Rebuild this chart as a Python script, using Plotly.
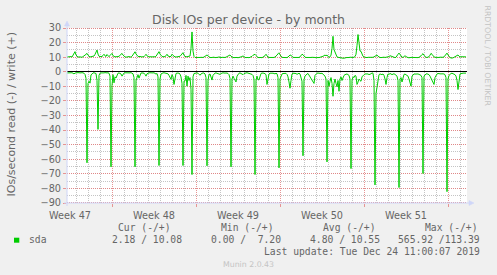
import pandas as pd
import plotly.graph_objects as go

# ---------------- data (2-hour samples) ----------------
start_time = "2019-11-21 06:00"
end_time = "2019-12-24 14:00"
n_samples = 400

write_iops = [
    10.1,10.3,10.0,10.2,10.4,10.1,11.2,12.6,13.8,11.5,10.3,10.0,10.2,10.4,10.1,9.9,10.3,10.6,11.4,12.0,
    12.6,11.3,10.4,10.1,10.3,10.5,10.2,10.8,11.9,13.2,14.9,12.1,10.6,10.4,10.2,10.5,11.1,12.0,10.9,10.5,
    11.8,10.6,10.3,11.2,12.3,12.6,11.0,10.4,10.2,10.3,10.1,10.4,10.6,11.2,11.9,12.6,11.4,10.5,10.2,10.0,
    10.3,10.1,10.4,10.2,10.0,10.6,11.5,12.8,13.7,12.2,11.0,10.5,10.3,10.6,10.2,10.4,10.1,10.3,11.1,12.0,
    10.9,10.4,10.2,10.3,10.1,10.0,10.2,10.4,10.1,10.6,11.8,12.9,13.8,12.1,10.8,10.5,10.3,10.2,10.4,11.0,
    12.0,10.8,10.5,10.3,10.6,12.0,11.2,10.4,10.2,10.1,10.3,10.5,10.2,10.6,11.4,12.8,13.1,11.2,10.4,10.2,
    10.3,10.5,10.2,10.8,16.0,27.3,14.2,10.5,9.8,9.7,9.9,9.8,9.6,9.8,9.9,9.7,9.8,10.1,10.4,10.7,
    11.5,10.9,10.0,9.8,9.7,9.9,9.8,10.0,9.7,9.6,9.8,9.9,10.2,9.8,9.7,9.9,9.8,9.6,9.8,10.0,
    10.3,10.8,11.2,11.5,10.6,9.9,9.8,9.7,9.9,10.1,9.8,9.6,9.8,9.9,9.7,10.4,10.9,10.1,9.8,9.7,
    9.9,9.8,9.6,9.8,10.0,10.6,11.3,12.0,12.0,11.1,10.2,9.8,9.7,9.9,9.8,9.6,9.9,10.3,11.0,12.0,
    10.8,10.0,9.8,9.7,9.9,9.8,9.6,9.8,10.1,10.6,11.4,12.3,13.0,11.6,10.4,9.9,9.8,9.7,9.9,9.8,
    9.7,10.1,10.8,11.5,11.2,10.3,9.9,9.8,9.7,9.9,9.8,9.6,9.8,10.2,11.0,12.0,11.7,10.6,10.0,9.8,
    9.7,9.9,9.8,9.6,9.8,9.9,10.0,9.7,9.8,9.6,9.9,9.8,9.7,9.9,9.8,10.1,10.6,11.0,11.5,10.9,
    11.5,10.4,9.9,10.2,11.4,16.0,24.3,15.2,13.0,11.0,10.2,9.9,9.7,9.8,9.6,9.4,9.3,9.3,9.6,9.9,
    9.8,9.7,9.9,9.8,10.0,9.8,9.7,9.9,10.4,12.0,18.0,25.5,20.0,14.2,14.0,11.8,10.6,10.1,9.9,9.8,
    9.7,9.9,9.8,10.0,9.8,9.7,9.9,10.2,10.8,11.2,11.5,10.6,10.0,9.8,9.7,9.9,9.8,10.0,9.8,9.9,
    9.8,10.0,10.4,11.0,10.8,10.2,9.9,9.8,9.7,9.9,10.6,12.0,12.8,11.6,10.5,10.0,9.8,10.3,11.0,10.4,
    9.9,9.7,9.6,9.8,9.7,9.9,9.8,9.7,9.8,9.9,9.8,9.7,9.9,10.2,10.9,11.8,12.4,11.2,10.3,9.9,
    9.8,9.9,10.3,11.4,12.6,12.0,10.9,10.2,9.9,9.8,9.7,9.9,9.8,10.0,9.8,9.7,9.9,10.2,11.0,12.0,
    12.8,11.5,10.4,9.8,9.4,9.3,9.5,9.9,10.2,10.6,11.2,11.5,10.6,10.1,10.3,10.2,10.3,10.2,10.3,10.2,
]

read_iops = [
    0.8,0.7,0.9,0.6,0.8,0.7,1.0,1.5,0.9,0.7,0.8,0.6,0.7,0.9,0.8,0.6,0.7,1.0,1.8,4.5,
    62.4,8.0,6.5,7.8,2.2,1.0,0.8,0.7,0.9,1.2,6.0,39.5,2.5,1.0,0.8,0.9,0.7,0.8,0.6,0.9,
    0.8,0.7,1.0,3.0,65.2,9.5,2.0,7.6,3.5,4.3,1.8,1.0,0.8,0.9,1.5,3.0,1.6,0.9,0.7,0.8,
    0.6,0.9,0.7,0.8,0.6,1.0,1.4,4.0,65.2,6.0,4.4,2.0,4.4,1.6,0.9,0.8,0.7,1.0,1.8,3.0,
    1.4,0.9,0.8,0.7,0.9,0.6,0.8,0.7,1.0,1.6,1.2,3.5,64.3,5.0,1.5,0.9,0.8,0.7,0.9,0.8,
    1.0,1.4,2.5,4.4,5.2,2.0,3.5,8.7,3.0,1.2,0.9,0.8,1.0,1.6,3.5,8.0,64.3,6.4,6.4,2.5,
    9.9,3.0,6.0,4.0,12.0,70.5,3.5,1.2,0.9,0.7,0.8,1.0,1.8,2.4,1.5,1.0,0.8,0.9,1.5,4.0,
    64.5,6.0,2.0,1.5,3.0,5.7,2.5,1.2,0.9,0.8,1.0,0.9,1.4,1.8,1.2,0.8,0.7,0.9,0.8,1.0,
    0.9,1.2,2.0,4.5,65.2,5.0,3.0,4.5,6.0,7.0,3.0,1.5,1.0,0.8,1.2,1.6,2.0,1.3,0.9,0.8,
    0.7,0.9,0.8,1.0,1.2,1.8,2.5,5.0,70.5,6.0,3.0,5.5,5.5,2.2,1.2,0.9,0.8,1.0,1.4,2.0,
    8.7,3.0,1.5,1.0,0.9,0.8,1.0,1.2,1.5,1.0,1.4,4.0,65.9,5.0,3.0,1.5,1.2,1.0,0.9,1.1,
    1.8,3.5,7.0,11.3,6.0,1.5,1.0,0.9,1.0,1.2,1.8,1.4,1.0,1.5,4.0,6.5,57.6,5.5,3.0,2.0,
    1.5,1.2,2.5,3.0,4.5,6.0,7.0,8.0,2.5,1.2,1.0,0.9,1.1,1.4,1.2,1.0,1.5,2.2,3.0,5.0,
    61.8,6.0,9.9,6.7,4.0,8.0,16.8,8.0,5.0,8.0,10.3,6.0,13.4,5.0,3.5,6.0,4.0,2.5,2.0,1.8,
    1.5,2.0,2.5,5.0,66.4,6.0,3.5,4.0,2.5,3.0,8.7,7.1,5.0,6.0,6.5,3.5,2.5,2.0,1.5,1.4,
    1.2,1.5,2.0,1.8,1.4,0.8,1.0,6.0,77.6,15.0,9.9,4.0,2.0,1.5,1.8,2.0,1.5,2.5,5.0,8.7,
    4.0,1.5,1.8,1.2,1.5,2.0,1.6,1.4,1.8,2.5,3.0,6.0,79.4,5.0,4.0,7.0,3.0,1.8,1.6,2.0,
    2.2,3.0,5.0,7.0,9.9,3.0,1.8,1.5,1.6,1.4,1.2,1.5,1.8,2.0,2.5,4.0,69.8,3.0,1.8,1.5,
    1.4,1.6,2.0,3.0,4.3,5.5,6.5,8.7,4.0,2.0,1.5,1.2,1.4,1.6,1.5,1.4,1.2,1.5,2.0,4.0,
    82.2,5.0,2.5,1.5,1.2,1.0,1.2,1.5,2.0,3.0,6.0,12.2,4.0,1.5,1.2,1.0,0.8,0.9,1.0,0.9,
]

legend_headers = ["Cur (-/+)", "Min (-/+)", "Avg (-/+)", "Max (-/+)"]
stat_read = [2.18, 0.00, 4.80, 565.92]
stat_write = [10.08, 7.20, 10.55, 113.39]
series_name = "sda"
title_text = "Disk IOs per device - by month"
ylabel_text = "IOs/second read (-) / write (+)"
last_update = "Last update: Tue Dec 24 11:00:07 2019"
watermark = "Munin 2.0.43"
side_text = "RRDTOOL / TOBI OETIKER"
y_range = [-90, 30]
y_major_step = 10
y_minor_step = 5

# ---------------- figure ----------------
W, H = 497, 275
L, R, T, B = 67, 30, 28, 72
PW, PH = W - L - R, H - T - B

def px(x):
    return (x - L) / PW

def py(y):
    return (H - B - y) / PH

def crisp_y(v):
    """paper y of a 1-px line snapped to the pixel row that value v falls on"""
    pix = T + (y_range[1] - v) * PH / (y_range[1] - y_range[0])
    row = min(int(pix), H - B - 1)
    return py(row + 0.5)

times = pd.date_range(start_time, periods=n_samples, freq="2h")
GREEN = "#00CC00"
FONT = "#666666"
MGRID = "#E69494"
MGRID_H = "#E08888"
GRID = "#C4C4C4"
AXIS = "#CFD6F8"

fig = go.Figure()
fig.add_trace(go.Scatter(x=times, y=[-v for v in read_iops], mode="lines",
                         line=dict(color=GREEN, width=1), hoverinfo="skip", showlegend=False))
fig.add_trace(go.Scatter(x=times, y=write_iops, mode="lines",
                         line=dict(color=GREEN, width=1), hoverinfo="skip", showlegend=False))

fig.update_xaxes(
    type="date", range=[start_time, end_time],
    tick0="2019-11-25", dtick=7 * 86400000,
    ticklabelmode="period", tickformat="Week %V",
    tickfont=dict(family="DejaVu Sans", size=9.7, color=FONT),
    showgrid=True, gridcolor=MGRID, griddash="1px,1px", gridwidth=1,
    ticks="outside", ticklen=3, tickcolor=MGRID,
    minor=dict(tick0="2019-11-25", dtick=86400000, showgrid=True,
               gridcolor=GRID, griddash="1px,1px", ticks=""),
    showline=False, zeroline=False, fixedrange=True,
)
fig.update_yaxes(
    range=y_range, dtick=y_major_step, tick0=0,
    tickfont=dict(family="DejaVu Sans", size=9.7, color=FONT),
    showgrid=False,
    ticks="outside", ticklen=3, tickcolor=MGRID,
    zeroline=False, showline=False, fixedrange=True,
)

shapes = []
# horizontal grid lines, snapped to whole pixel rows (rrdtool style)
v = y_range[0]
while v <= y_range[1]:
    major = (v % y_major_step == 0)
    shapes.append(dict(type="line", xref="paper", yref="paper", layer="between",
                       x0=0, x1=1, y0=crisp_y(v), y1=crisp_y(v),
                       line=dict(color=MGRID_H if major else GRID, width=1, dash="1px,1px")))
    v += y_minor_step
# zero line
shapes.append(dict(type="line", xref="paper", yref="paper", layer="between",
                   x0=0, x1=1, y0=crisp_y(0), y1=crisp_y(0),
                   line=dict(color="#000000", width=1)))
shapes += [
    # y axis line + arrow
    dict(type="line", xref="paper", yref="paper", xsizemode="pixel", ysizemode="pixel",
         xanchor=0, yanchor=0, x0=0, x1=0, y0=-3, y1=PH + 2, line=dict(color=AXIS, width=1)),
    dict(type="path", xref="paper", yref="paper", xsizemode="pixel", ysizemode="pixel",
         xanchor=0, yanchor=1, path="M-2.5,2 L2.5,2 L0,7 Z", fillcolor=AXIS,
         line=dict(color=AXIS, width=0.5)),
    # x axis line + arrow
    dict(type="line", xref="paper", yref="paper", xsizemode="pixel", ysizemode="pixel",
         xanchor=0, yanchor=0, x0=-3, x1=PW + 2, y0=0, y1=0, line=dict(color=AXIS, width=1)),
    dict(type="path", xref="paper", yref="paper", xsizemode="pixel", ysizemode="pixel",
         xanchor=1, yanchor=0, path="M2,-2.5 L2,2.5 L7,0 Z", fillcolor=AXIS,
         line=dict(color=AXIS, width=0.5)),
    # legend colour box
    dict(type="rect", xref="paper", yref="paper", x0=px(14), x1=px(19.3), y0=py(242.7), y1=py(237.7),
         fillcolor=GREEN, line=dict(width=0)),
]

NB = "\u00a0"
mono = dict(family="DejaVu Sans Mono", size=9.7, color=FONT)
ann = []

def add_text(text, x, y, font, xanchor="left", yanchor="middle", angle=0):
    ann.append(dict(text=text.replace(" ", NB), x=px(x), y=py(y), xref="paper", yref="paper",
                    xanchor=xanchor, yanchor=yanchor, showarrow=False, font=font,
                    textangle=angle))

add_text(title_text, 248.5, 19.5, dict(family="DejaVu Sans", size=12.5, color=FONT), xanchor="center")
add_text(ylabel_text, 11, 114.5, dict(family="DejaVu Sans", size=11, color=FONT), xanchor="center", angle=-90)
add_text(side_text, 487.5, 56, dict(family="DejaVu Sans", size=7.8, color="#C4C4C4"), xanchor="center", angle=90)

header_x = [116, 219, 321, 423]
value_x = [110, 209.3, 308, 395.7]
for hx, h in zip(header_x, legend_headers):
    add_text(h, hx, 227.7, mono)
add_text(series_name, 26.7, 239.5, mono)
for vx, r_, w_ in zip(value_x, stat_read, stat_write):
    add_text(f"{r_:.2f} /{w_:6.2f}", vx, 239.5, mono)
add_text(last_update, 261.7, 251.2, mono)
add_text(watermark, 248.5, 264, dict(family="DejaVu Sans", size=7.8, color="#C4C4C4"), xanchor="center")

fig.update_layout(
    width=W, height=H, margin=dict(l=L, r=R, t=T, b=B, pad=0),
    paper_bgcolor="#F0F0F0", plot_bgcolor="#FFFFFF",
    showlegend=False, shapes=shapes, annotations=ann,
)

fig.write_html("out.html", config=dict(displayModeBar=False, staticPlot=True))
